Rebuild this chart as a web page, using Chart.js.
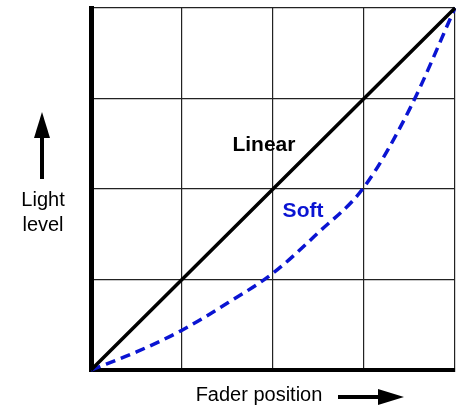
<!DOCTYPE html>
<html>
<head>
<meta charset="utf-8">
<script src="https://cdn.jsdelivr.net/npm/chart.js@4.4.1/dist/chart.umd.min.js"></script>
<style>
  html, body { margin: 0; padding: 0; background: #fff; }
  #wrap { width: 456px; height: 409px; }
</style>
</head>
<body>
<div id="wrap"><canvas id="fader"></canvas></div>
<script>
// fader position vs light level
const faderPos = [0, 0.5, 1, 1.5, 2, 2.5, 3, 3.5, 4]
const linearLevel = [0, 0.5, 1, 1.5, 2, 2.5, 3, 3.5, 4]
const softLevel = [0, 0.2, 0.44, 0.74, 1.07, 1.52, 2.02, 2.88, 4]

const curveNames = ['Linear', 'Soft']
const curveColors = ['#000000', '#0a14d2']
// where the curve names sit, in axis units
const nameX = [1.9, 2.33]
const nameY = [2.48, 1.76]

const axisTitleX = 'Fader position'
const axisTitleY = ['Light', 'level']

function pts(ys) {
  return faderPos.map((x, i) => ({ x, y: ys[i] }))
}

function arrow(ctx, x1, y1, x2, y2, head, half) {
  const a = Math.atan2(y2 - y1, x2 - x1)
  const bx = x2 - Math.cos(a) * head
  const by = y2 - Math.sin(a) * head
  ctx.beginPath()
  ctx.moveTo(x1, y1)
  ctx.lineTo(bx, by)
  ctx.lineWidth = 4
  ctx.stroke()
  ctx.beginPath()
  ctx.moveTo(x2, y2)
  ctx.lineTo(bx - Math.sin(a) * half, by + Math.cos(a) * half)
  ctx.lineTo(bx + Math.sin(a) * half, by - Math.cos(a) * half)
  ctx.closePath()
  ctx.fill()
}

const labelsPlugin = {
  id: 'labels',
  afterDraw(chart) {
    const { ctx, scales: { x, y } } = chart
    ctx.save()
    ctx.textAlign = 'center'
    ctx.textBaseline = 'middle'

    ctx.font = 'bold 21px "Liberation Sans", Arial, sans-serif'
    curveNames.forEach((name, i) => {
      ctx.fillStyle = curveColors[i]
      ctx.fillText(name, x.getPixelForValue(nameX[i]), y.getPixelForValue(nameY[i]))
    })

    ctx.fillStyle = '#000'
    ctx.strokeStyle = '#000'
    ctx.font = '20px "Liberation Sans", Arial, sans-serif'
    ctx.fillText(axisTitleY[0], 43, 200)
    ctx.fillText(axisTitleY[1], 43, 225)
    ctx.fillText(axisTitleX, 259, 395)

    arrow(ctx, 42, 179, 42, 112, 26, 8)
    arrow(ctx, 338, 397, 404, 397, 26, 8)
    ctx.restore()
  }
}

new Chart(document.getElementById('fader'), {
  type: 'scatter',
  data: {
    datasets: [
      {
        label: curveNames[0],
        data: pts(linearLevel),
        showLine: true,
        borderColor: curveColors[0],
        borderWidth: 3.5,
        pointRadius: 0,
        clip: false
      },
      {
        label: curveNames[1],
        data: pts(softLevel),
        showLine: true,
        borderColor: curveColors[1],
        borderWidth: 3.5,
        borderDash: [10, 6],
        cubicInterpolationMode: 'monotone',
        pointRadius: 0,
        clip: false
      }
    ]
  },
  options: {
    responsive: true,
    maintainAspectRatio: false,
    animation: false,
    layout: { padding: { left: 91, top: 8, right: 1, bottom: 39 } },
    plugins: { legend: { display: false }, tooltip: { enabled: false } },
    scales: {
      x: {
        type: 'linear',
        min: 0,
        max: 4,
        ticks: { display: false, stepSize: 1 },
        grid: { color: '#222', lineWidth: 1.2, drawTicks: false },
        border: { color: '#000', width: 4 }
      },
      y: {
        type: 'linear',
        min: 0,
        max: 4,
        ticks: { display: false, stepSize: 1 },
        grid: { color: '#222', lineWidth: 1.2, drawTicks: false },
        border: { color: '#000', width: 5 }
      }
    }
  },
  plugins: [labelsPlugin]
})
</script>
</body>
</html>
